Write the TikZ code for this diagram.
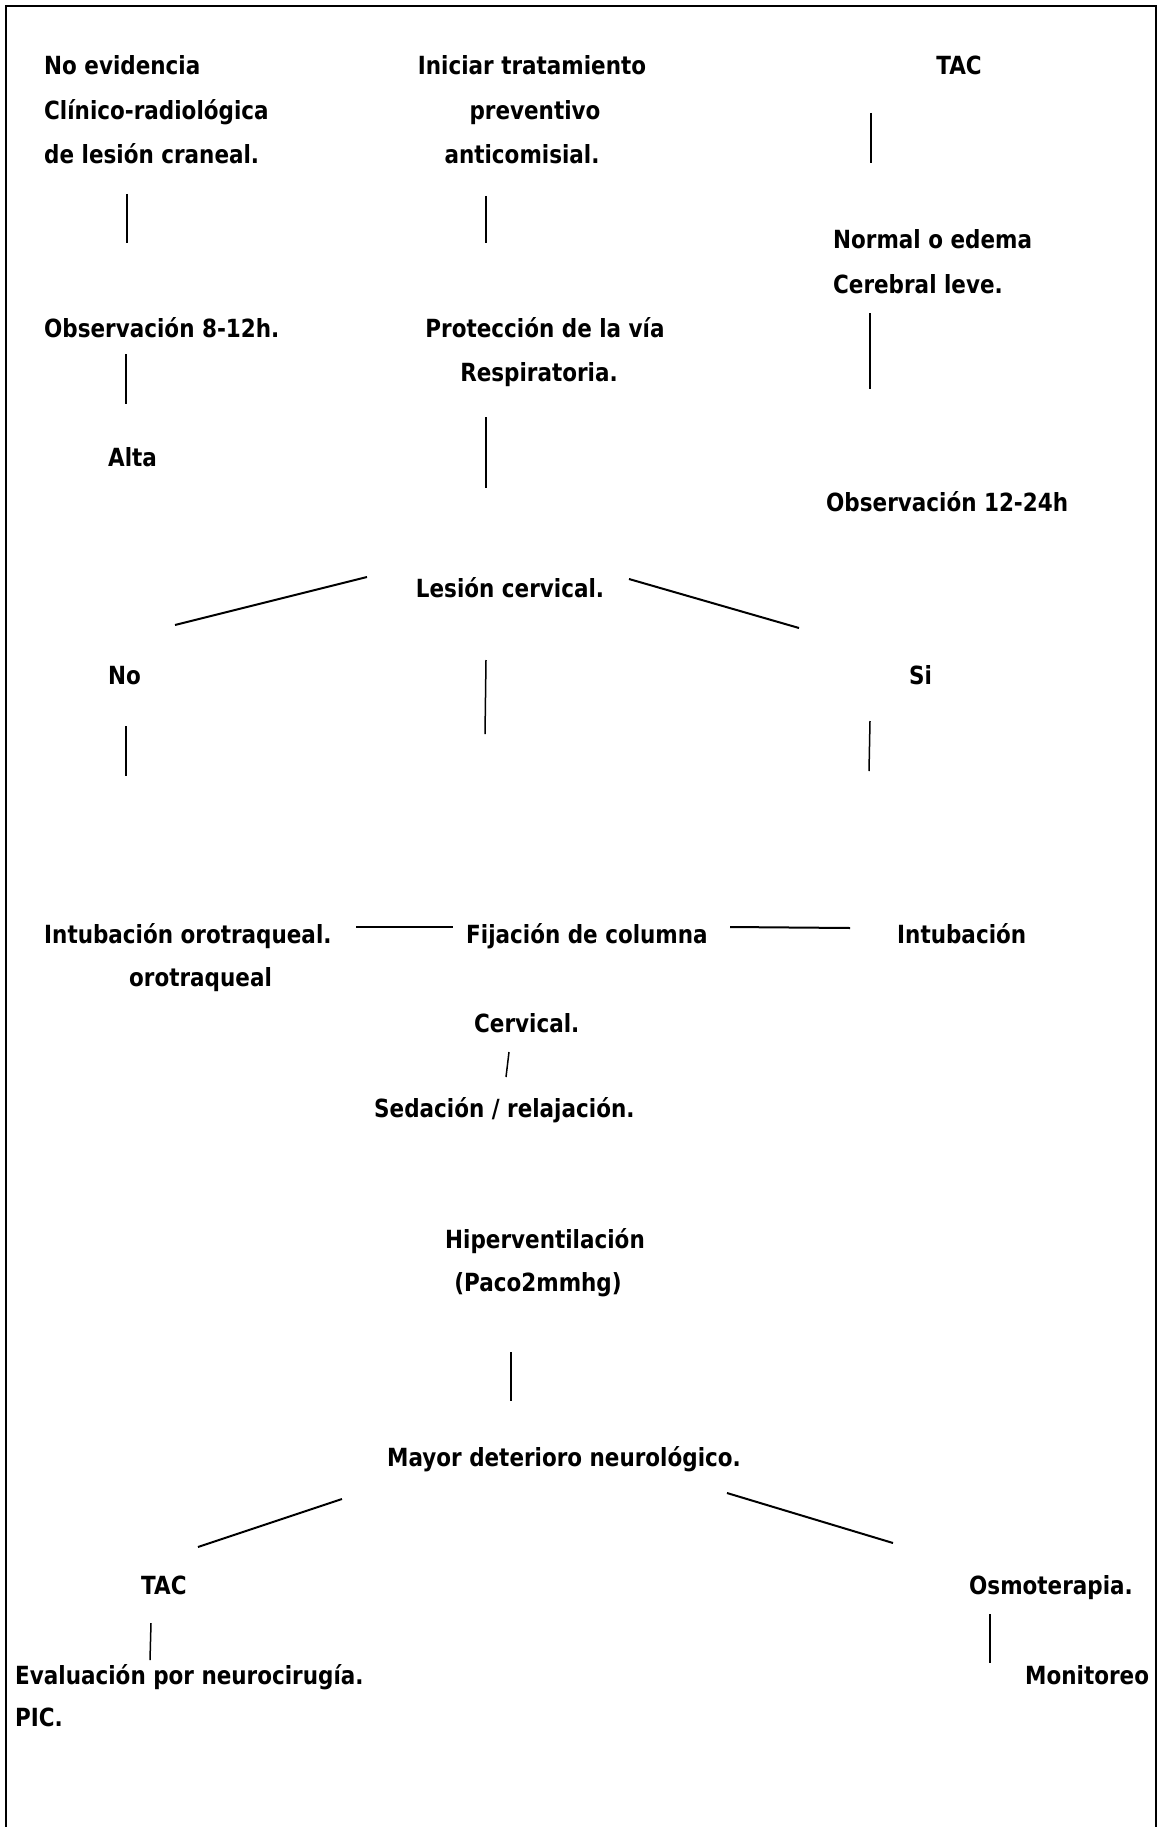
\documentclass[tikz,border=0pt]{standalone}
\usepackage{fontspec}
\newfontfamily\lblfont{DejaVu Sans}[FakeStretch=0.86]
\begin{document}
\begin{tikzpicture}[x=1pt,y=-1pt,
  lbl/.style={font=\lblfont\bfseries\fontsize{25}{30}\selectfont, inner sep=0pt},
  lw/.style={lbl, anchor=base west},
  lc/.style={lbl, anchor=base},
  link/.style={line width=1.5pt},
  slant/.style={line width=2pt}]
\useasboundingbox (0,0) rectangle (1159,1827);
% outer frame (open at the bottom)
\draw[line width=2pt] (6,1830) -- (6,6) -- (1156,6) -- (1156,1830);

% ---- left column
\node[lw] (ne1) at (44,75)  {No evidencia};
\node[lw] (ne2) at (44,120) {Clínico-radiológica};
\node[lw] (ne3) at (44,164) {de lesión craneal.};
\node[lw] (obs1) at (44,337) {Observación 8-12h.};
\node[lw] (alta) at (108,466) {Alta};

% ---- middle column
\node[lc] (it1) at (532,75)  {Iniciar tratamiento};
\node[lc] (it2) at (535,120) {preventivo};
\node[lc] (it3) at (522,164) {anticomisial.};
\node[lc] (pr1) at (545,337) {Protección de la vía};
\node[lc] (pr2) at (539,381) {Respiratoria.};
\node[lc] (lc)  at (510,597) {Lesión cervical.};

% ---- right column
\node[lc] (tac1) at (959,75) {TAC};
\node[lw] (nm1) at (833,249) {Normal o edema};
\node[lw] (nm2) at (833,293) {Cerebral leve.};
\node[lw] (obs2) at (826,511) {Observación 12-24h};

% ---- cervical branch
\node[lw] (no) at (108,684) {No};
\node[lw] (si) at (909,684) {Si};
\node[lw] (ito) at (44,943) {Intubación orotraqueal.};
\node[lw] (fij) at (466,943) {Fijación de columna};
\node[lw] (itb) at (897,943) {Intubación};
\node[lw] (oro) at (129,986) {orotraqueal};
\node[lw] (cer) at (474,1032) {Cervical.};
\node[lw] (sed) at (374,1117) {Sedación / relajación.};
\node[lc] (hip) at (545,1248) {Hiperventilación};
\node[lc] (pac) at (538,1291) {(Paco2mmhg)};
\node[lc] (may) at (564,1466) {Mayor deterioro neurológico.};
\node[lw] (tac2) at (141,1594) {TAC};
\node[lw] (osm) at (969,1594) {Osmoterapia.};
\node[lw] (eva) at (15,1684) {Evaluación por neurocirugía.};
\node[lw] (mon) at (1025,1684) {Monitoreo};
\node[lw] (pic) at (15,1726) {PIC.};

% ---- connector end points
\coordinate (a1) at (127,194);  \coordinate (a2) at (127,243);
\coordinate (b1) at (126,354);  \coordinate (b2) at (126,404);
\coordinate (c1) at (486,196);  \coordinate (c2) at (486,243);
\coordinate (d1) at (486,417);  \coordinate (d2) at (486,488);
\coordinate (e1) at (871,113);  \coordinate (e2) at (871,163);
\coordinate (f1) at (870,313);  \coordinate (f2) at (870,389);
\coordinate (g1) at (367,577);  \coordinate (g2) at (175,625);
\coordinate (h1) at (629,579);  \coordinate (h2) at (799,628);
\coordinate (i1) at (486,660);  \coordinate (i2) at (485,734);
\coordinate (j1) at (126,726);  \coordinate (j2) at (126,776);
\coordinate (k1) at (870,721);  \coordinate (k2) at (869,771);
\coordinate (l1) at (356,927);  \coordinate (l2) at (453,927);
\coordinate (m1) at (730,927);  \coordinate (m2) at (850,928);
\coordinate (n1) at (509,1052); \coordinate (n2) at (506,1077);
\coordinate (o1) at (511,1352); \coordinate (o2) at (511,1401);
\coordinate (p1) at (342,1499); \coordinate (p2) at (198,1547);
\coordinate (q1) at (727,1493); \coordinate (q2) at (893,1543);
\coordinate (r1) at (151,1623); \coordinate (r2) at (150,1660);
\coordinate (s1) at (990,1614); \coordinate (s2) at (990,1663);

% ---- connectors
\draw[link] (a1) -- (a2);
\draw[link] (b1) -- (b2);
\draw[link] (c1) -- (c2);
\draw[link] (d1) -- (d2);
\draw[link] (e1) -- (e2);
\draw[link] (f1) -- (f2);
\draw[slant] (g1) -- (g2);
\draw[slant] (h1) -- (h2);
\draw[link] (i1) -- (i2);
\draw[link] (j1) -- (j2);
\draw[link] (k1) -- (k2);
\draw[slant] (l1) -- (l2);
\draw[slant] (m1) -- (m2);
\draw[link] (n1) -- (n2);
\draw[link] (o1) -- (o2);
\draw[slant] (p1) -- (p2);
\draw[slant] (q1) -- (q2);
\draw[link] (r1) -- (r2);
\draw[link] (s1) -- (s2);
\end{tikzpicture}
\end{document}
